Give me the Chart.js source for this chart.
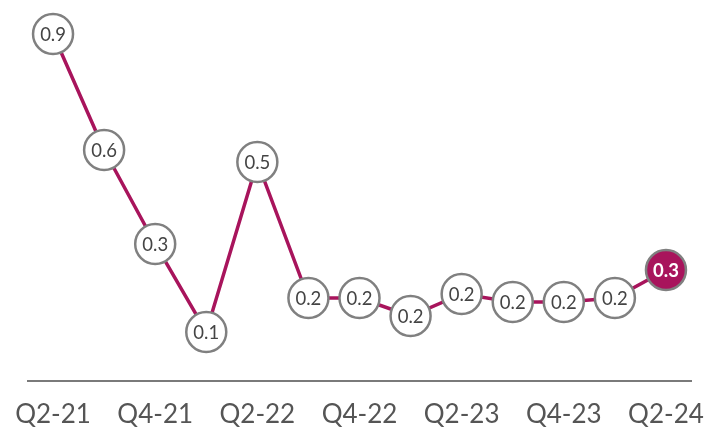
<!DOCTYPE html>
<html>
<head>
<meta charset="utf-8">
<script src="https://cdn.jsdelivr.net/npm/chart.js@4/dist/chart.umd.min.js"></script>
<style>
  html, body { margin: 0; padding: 0; background: #ffffff; }
  #wrap { width: 707px; height: 428px; position: relative; }
</style>
</head>
<body>
<div id="wrap"><canvas id="c"></canvas></div>
<script>
const categories = ['Q2-21','Q3-21','Q4-21','Q1-22','Q2-22','Q3-22','Q4-22','Q1-23','Q2-23','Q3-23','Q4-23','Q1-24','Q2-24'];
const values = [0.86, 0.57, 0.335, 0.115, 0.54, 0.20, 0.20, 0.155, 0.21, 0.19, 0.19, 0.20, 0.27];
const shownTickIndexes = [0, 2, 4, 6, 8, 10, 12];

const lineColor = '#A8145C';
const ringColor = '#808080';
const lastIndex = values.length - 1;

const labelPlugin = {
  id: 'pointLabels',
  afterDatasetsDraw(chart) {
    const ctx = chart.ctx;
    const meta = chart.getDatasetMeta(0);
    ctx.save();
    ctx.textAlign = 'center';
    ctx.textBaseline = 'middle';
    meta.data.forEach((pt, i) => {
      const txt = values[i].toFixed(1);
      if (i === lastIndex) {
        ctx.fillStyle = '#ffffff';
        ctx.font = 'bold 18.5px Lato';
      } else {
        ctx.fillStyle = '#444444';
        ctx.font = '18.5px Lato';
      }
      ctx.fillText(txt, pt.x, pt.y + 1);
    });
    ctx.restore();
  }
};

new Chart(document.getElementById('c'), {
  type: 'line',
  data: {
    labels: categories,
    datasets: [{
      data: values,
      borderColor: lineColor,
      borderWidth: 3.5,
      tension: 0,
      clip: false,
      pointRadius: 20,
      pointHoverRadius: 20,
      pointBorderWidth: 2.5,
      pointBorderColor: ringColor,
      pointBackgroundColor: values.map((v, i) => i === lastIndex ? lineColor : '#ffffff')
    }]
  },
  options: {
    responsive: true,
    maintainAspectRatio: false,
    animation: false,
    events: [],
    layout: { autoPadding: false, padding: { top: 18, left: 27.5, right: 15.5, bottom: 0 } },
    plugins: { legend: { display: false }, tooltip: { enabled: false } },
    scales: {
      x: {
        offset: true,
        grid: { display: true, drawOnChartArea: false, drawTicks: true, tickLength: 21, tickColor: 'rgba(0,0,0,0)', color: 'rgba(0,0,0,0)' },
        border: { display: true, color: '#7a7a7a', width: 2 },
        ticks: {
          autoSkip: false,
          maxRotation: 0,
          padding: 0,
          color: '#555555',
          font: { family: 'Lato', size: 26, lineHeight: 1 },
          callback: function(val, idx) {
            return shownTickIndexes.includes(idx) ? categories[idx] : '';
          }
        }
      },
      y: {
        display: false,
        min: -0.0075,
        max: 0.9
      }
    }
  },
  plugins: [labelPlugin]
});
</script>
</body>
</html>
